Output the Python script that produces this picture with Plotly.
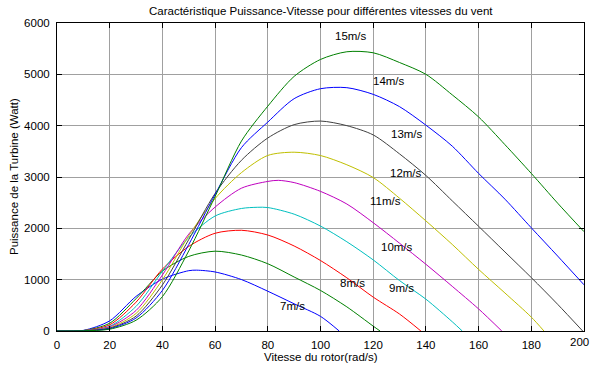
import plotly.graph_objects as go

# ---- data ----
wind_labels = ["7m/s", "8m/s", "9m/s", "10m/s", "11m/s", "12m/s", "13m/s", "14m/s", "15m/s"]

omega_7 = [0, 10, 20, 30, 40, 50, 53, 60, 70, 80, 90, 100, 107.1]
P_7 = [0, 12, 198, 674, 1010, 1175, 1185, 1150, 1002, 775, 530, 285, 0]

omega_8 = [0, 10, 20, 30, 40, 50, 60, 70, 80, 90, 100, 110, 120, 122.6]
P_8 = [0, 9, 152, 630, 1166, 1453, 1555, 1480, 1310, 1052, 790, 470, 95, 0]

omega_9 = [0, 10, 20, 30, 40, 50, 60, 70, 80, 90, 100, 110, 120, 130, 138.1]
P_9 = [0, 8, 121, 562, 1206, 1648, 1904, 1962, 1870, 1656, 1373, 1036, 660, 330, 0]

omega_10 = [0, 10, 20, 30, 40, 50, 60, 70, 76, 80, 90, 100, 110, 120, 130, 140, 150, 153.8]
P_10 = [0, 7, 93, 480, 1164, 1822, 2240, 2387, 2410, 2405, 2276, 2044, 1738, 1385, 982, 620, 180, 0]

omega_11 = [0, 10, 20, 30, 40, 50, 60, 70, 80, 84, 90, 100, 110, 120, 130, 140, 150, 160, 168.8]
P_11 = [0, 6, 81, 400, 1091, 1887, 2414, 2782, 2914, 2935, 2891, 2720, 2474, 2110, 1710, 1300, 870, 430, 0]

omega_12 = [0, 10, 20, 30, 40, 50, 60, 70, 80, 90, 100, 110, 120, 130, 140, 150, 160, 170, 180, 184.8]
P_12 = [0, 6, 64, 342, 998, 1853, 2580, 3085, 3420, 3483, 3418, 3238, 2990, 2586, 2145, 1686, 1200, 740, 270, 0]

omega_13 = [0, 10, 20, 30, 40, 50, 60, 70, 80, 90, 100, 110, 120, 130, 140, 150, 160, 170, 180, 190, 199.5]
P_13 = [0, 6, 56, 289, 897, 1782, 2680, 3326, 3760, 4020, 4090, 4000, 3820, 3450, 3030, 2535, 2040, 1540, 1040, 520, 0]

omega_14 = [0, 10, 20, 30, 40, 50, 60, 70, 80, 90, 100, 110, 120, 130, 140, 150, 160, 170, 180, 190, 200]
P_14 = [0, 5, 46, 253, 791, 1685, 2660, 3572, 4070, 4526, 4720, 4740, 4610, 4370, 4010, 3601, 3070, 2568, 2010, 1460, 900]

omega_15 = [0, 10, 20, 30, 40, 50, 60, 70, 80, 90, 100, 110, 120, 130, 140, 150, 160, 170, 180, 190, 200]
P_15 = [0, 5, 35, 210, 670, 1560, 2620, 3700, 4380, 4960, 5290, 5440, 5420, 5230, 5000, 4600, 4170, 3630, 3070, 2490, 1935]

x_ticks = [0, 20, 40, 60, 80, 100, 120, 140, 160, 180, 200]
y_ticks = [0, 1000, 2000, 3000, 4000, 5000, 6000]

title_text = "Caractéristique Puissance-Vitesse pour différentes vitesses du vent"
x_title = "Vitesse du rotor(rad/s)"
y_title = "Puissance de la Turbine (Watt)"

# ---- styling / layout ----
series = [(omega_7, P_7), (omega_8, P_8), (omega_9, P_9), (omega_10, P_10),
          (omega_11, P_11), (omega_12, P_12), (omega_13, P_13), (omega_14, P_14),
          (omega_15, P_15)]
colors = ["#0000ff", "#008000", "#ff0000", "#00bfbf", "#bf00bf",
          "#bfbf00", "#404040", "#0000ff", "#008000"]
# label anchor positions (data coords)
label_pos = [(89.2, 487), (112.1, 935), (130.9, 847), (129.2, 1636), (124.5, 2533),
             (132.4, 3078), (133.0, 3838), (126.0, 4870), (111.6, 5747)]

FONT = "Liberation Sans, Arial, Helvetica, sans-serif"

fig = go.Figure()
for (xs, ys), c, name in zip(series, colors, wind_labels):
    fig.add_trace(go.Scatter(x=xs, y=ys, mode="lines", name=name,
                             line=dict(color=c, width=1, shape="spline", smoothing=0.8),
                             showlegend=False))

W, H = 592, 366
plot_l, plot_r, plot_t, plot_b = 57, 584, 23, 331
pw, ph = plot_r - plot_l, plot_b - plot_t
tfont = dict(family=FONT, size=11.5, color="black")

annotations = []
for (lx, ly), name in zip(label_pos, wind_labels):
    annotations.append(dict(x=lx, y=ly, xref="x", yref="y", text=name, showarrow=False,
                            font=tfont, xanchor="center", yanchor="middle"))
annotations.append(dict(x=(320.5 - plot_l) / pw, y=(plot_b - 10.5) / ph,
                        xref="paper", yref="paper", text=title_text,
                        showarrow=False, font=tfont, xanchor="center", yanchor="middle"))
annotations.append(dict(x=0.5, y=(plot_b - 357) / ph, xref="paper", yref="paper", text=x_title,
                        showarrow=False, font=tfont, xanchor="center", yanchor="middle"))
annotations.append(dict(x=(14 - plot_l) / pw, y=0.5, xref="paper", yref="paper", text=y_title,
                        showarrow=False, textangle=-90, font=tfont,
                        xanchor="center", yanchor="middle"))

# last x tick label drawn as annotation so it stays inside the page
x_ticktext = [str(v) for v in x_ticks]
last_label = x_ticktext[-1]
x_ticktext[-1] = ""
annotations.append(dict(x=(W - 1 - plot_l) / pw, y=(plot_b - 342) / ph, xref="paper", yref="paper",
                        text=last_label, showarrow=False, font=tfont,
                        xanchor="right", yanchor="middle"))

fig.update_layout(
    width=W, height=H,
    margin=dict(l=plot_l, r=W - plot_r, t=plot_t, b=H - plot_b, pad=0, autoexpand=False),
    paper_bgcolor="white", plot_bgcolor="white",
    font=tfont,
    annotations=annotations,
)
axis_common = dict(showline=True, linecolor="black", linewidth=1, mirror="ticks",
                   ticks="inside", ticklen=5, tickcolor="black", tickwidth=1,
                   showgrid=True, gridcolor="#a0a0a0", gridwidth=1, automargin=False,
                   zeroline=False, tickfont=tfont)
fig.update_xaxes(range=[0, 200], tickvals=x_ticks, ticktext=x_ticktext, ticklabelstandoff=3,
                 ticklabeloverflow="allow", **axis_common)
fig.update_yaxes(range=[0, 6000], tickvals=y_ticks, ticklabelstandoff=4,
                 ticklabeloverflow="allow", **axis_common)

fig.write_html("out.html")
